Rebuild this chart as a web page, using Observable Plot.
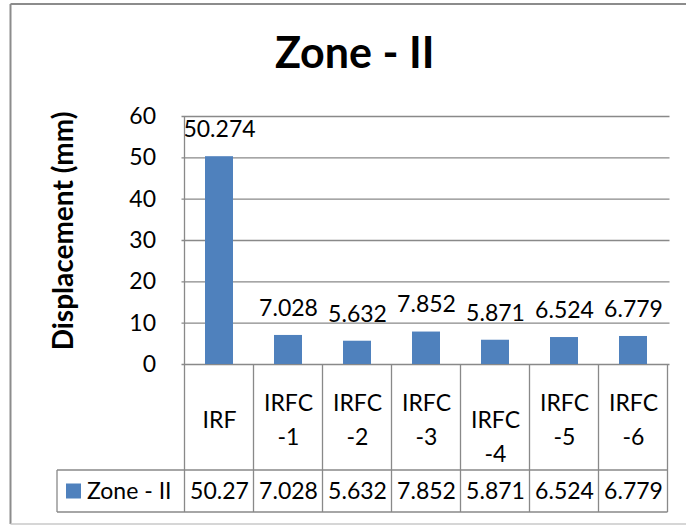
<!DOCTYPE html>
<html><head><meta charset="utf-8">
<script src="https://cdn.jsdelivr.net/npm/d3@7"></script>
<script src="https://cdn.jsdelivr.net/npm/@observablehq/plot@0.6"></script>
<style>html,body{margin:0;padding:0;background:#fff;} #chart{position:relative;width:686px;height:525px;overflow:hidden;}</style>
</head><body><div id="chart"></div>
<script>
const title = "Zone - II";
const seriesName = "Zone - II";
const yLabel = "Displacement (mm)";
const categories = ["IRF", "IRFC-1", "IRFC-2", "IRFC-3", "IRFC-4", "IRFC-5", "IRFC-6"];
const categoryLabels = ["IRF", "IRFC\n-1", "IRFC\n-2", "IRFC\n-3", "\nIRFC\n-4", "IRFC\n-5", "IRFC\n-6"];
const values = [50.274, 7.028, 5.632, 7.852, 5.871, 6.524, 6.779];
const tableLabels = ["50.27", "7.028", "5.632", "7.852", "5.871", "6.524", "6.779"];
const yTicks = [0, 10, 20, 30, 40, 50, 60];

const data = categories.map((c, i) => ({category: c, label: categoryLabels[i], value: values[i], table: tableLabels[i]}));

const FONT = "Lato, 'Open Sans', sans-serif";
const BLUE = "#4f81bd";
const GRID = "#898989";
const W = 686, H = 525, ML = 181.5, MR = 16.5, MT = 116, MB = 161;
const ROW1 = 106, ROW2 = 42;
const LEGEND_LEFT = 57;

const plot = Plot.plot({
  width: W, height: H,
  marginLeft: ML, marginRight: MR, marginTop: MT, marginBottom: MB,
  style: {fontFamily: FONT, fontSize: "23px", color: "#000", background: "transparent", overflow: "visible"},
  x: {type: "band", domain: categories, paddingInner: 0.6, paddingOuter: 0.3, axis: null},
  y: {domain: [0, 60], ticks: yTicks, tickSize: 0, tickPadding: 26, label: null, tickFormat: d => String(d)},
  marks: [
    Plot.ruleY(yTicks, {stroke: GRID, strokeWidth: 1.3}),
    Plot.barY(data, {x: "category", y: "value", fill: BLUE}),
    Plot.text(data, {x: "category", y: "value", text: d => String(d.value), dy: -27, fontSize: 23}),
    Plot.text(data, {x: "category", text: "label", frameAnchor: "bottom", textAnchor: "middle", lineAnchor: "middle", dy: ROW1 / 2, lineHeight: 1.48, fontSize: 23}),
    Plot.text(data, {x: "category", text: "table", frameAnchor: "bottom", textAnchor: "middle", lineAnchor: "middle", dy: ROW1 + ROW2 / 2, fontSize: 23}),
    Plot.text([yLabel], {frameAnchor: "left", textAnchor: "middle", lineAnchor: "middle", rotate: -90, dx: -118, dy: -9.5, fontWeight: "bold", fontSize: 28})
  ]
});

const svg = d3.select(plot);
const xs = plot.scale("x"), ys = plot.scale("y");
const step = xs.apply(categories[1]) - xs.apply(categories[0]);
const bw = xs.bandwidth != null ? xs.bandwidth : step * 0.4;
const bounds = categories.map(c => xs.apply(c) - (step - bw) / 2);
bounds.push(bounds[bounds.length - 1] + step);
const y0 = ys.apply(0), yTop = ys.apply(60);
const yRow = y0 + ROW1, yEnd = y0 + ROW1 + ROW2;
const xLeft = bounds[0], xRight = bounds[bounds.length - 1];

const g = svg.append("g").attr("stroke", GRID).attr("stroke-width", 1.3).attr("fill", "none");
g.append("line").attr("x1", xLeft).attr("x2", xLeft).attr("y1", yTop).attr("y2", yEnd);
bounds.slice(1).forEach(b => g.append("line").attr("x1", b).attr("x2", b).attr("y1", y0).attr("y2", yEnd));
g.append("line").attr("x1", LEGEND_LEFT).attr("x2", xRight).attr("y1", yRow).attr("y2", yRow);
g.append("line").attr("x1", LEGEND_LEFT).attr("x2", xRight).attr("y1", yEnd).attr("y2", yEnd);
g.append("line").attr("x1", LEGEND_LEFT).attr("x2", LEGEND_LEFT).attr("y1", yRow).attr("y2", yEnd);

// legend key in the data table
const yMid = (yRow + yEnd) / 2;
svg.append("rect").attr("x", 66).attr("y", yMid - 7.5).attr("width", 15).attr("height", 15).attr("fill", BLUE);
svg.append("text").attr("x", 87).attr("y", yMid).attr("dy", "0.35em").attr("text-anchor", "start")
  .style("font-family", FONT).style("font-size", "23px").attr("fill", "#000").text(seriesName);

// title
svg.append("text").attr("x", 354.7).attr("y", 68).attr("text-anchor", "middle")
  .style("font-family", FONT).style("font-size", "43px").style("font-weight", "bold").attr("fill", "#000").text(title);

// chart border
const b = svg.append("g").attr("fill", "none");
b.append("line").attr("x1", 10.5).attr("x2", W).attr("y1", 4).attr("y2", 4).attr("stroke", "#8c8c8c").attr("stroke-width", 2);
b.append("line").attr("x1", 10.5).attr("x2", 10.5).attr("y1", 4).attr("y2", 524).attr("stroke", "#8c8c8c").attr("stroke-width", 2);
b.append("line").attr("x1", 10.5).attr("x2", W).attr("y1", 524).attr("y2", 524).attr("stroke", "#c8c8c8").attr("stroke-width", 1.5);

document.getElementById("chart").appendChild(plot);
</script>
</body></html>
